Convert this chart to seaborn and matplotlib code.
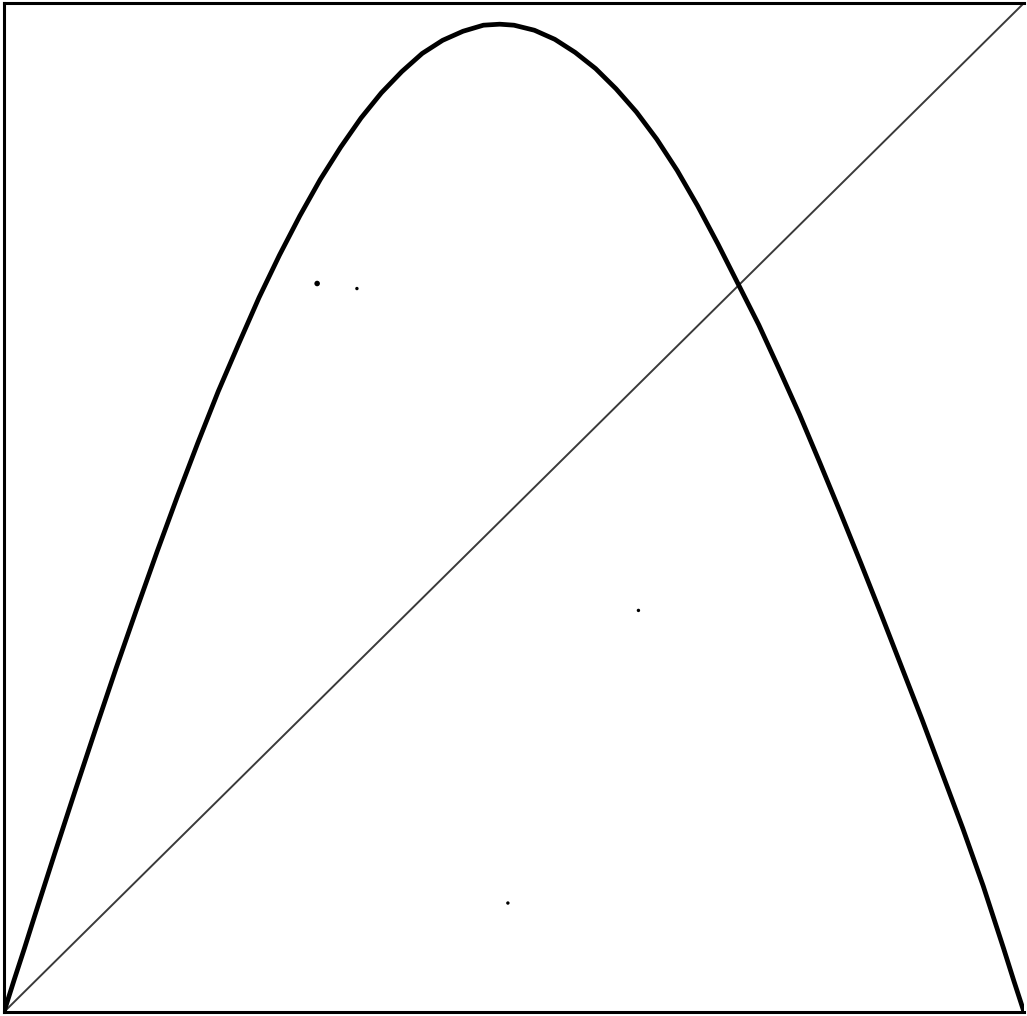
import matplotlib
matplotlib.use("Agg")
import matplotlib.pyplot as plt
import seaborn as sns
import pandas as pd

# curve (x, f(x)), peak a little left of 0.5
curve_x = [0.0, 0.01, 0.02, 0.03, 0.05, 0.07, 0.09, 0.11, 0.13, 0.15, 0.17,
           0.19, 0.21, 0.23, 0.25, 0.27, 0.29, 0.31, 0.33, 0.35, 0.37, 0.39,
           0.41, 0.43, 0.45, 0.47, 0.486,
           0.50, 0.52, 0.54, 0.56, 0.58, 0.60, 0.62, 0.64, 0.66, 0.68, 0.70,
           0.72, 0.74, 0.76, 0.78, 0.80, 0.82, 0.84, 0.86, 0.88, 0.90, 0.92,
           0.94, 0.96, 0.98, 0.99, 1.0]
curve_y = [0.0, 0.032, 0.063, 0.095, 0.158, 0.220, 0.281, 0.341, 0.399, 0.456,
           0.511, 0.564, 0.615, 0.662, 0.708, 0.750, 0.789, 0.825, 0.857,
           0.886, 0.911, 0.932, 0.950, 0.963, 0.972, 0.978, 0.979,
           0.978, 0.973, 0.964, 0.951, 0.935, 0.915, 0.892, 0.865, 0.834,
           0.799, 0.761, 0.721, 0.681, 0.637, 0.592, 0.544, 0.495, 0.445,
           0.394, 0.342, 0.290, 0.236, 0.182, 0.125, 0.063, 0.031, 0.0]

# identity line
diag_x = [0.0, 1.0]
diag_y = [0.0, 1.0]

# a few stray dots
dots_x = [0.307, 0.346, 0.622, 0.494]
dots_y = [0.722, 0.717, 0.398, 0.108]
dots_s = [16, 6, 6, 6]

sns.set_style("white")

fig = plt.figure(figsize=(10.27, 10.16), dpi=100)
ax = fig.add_axes([4 / 1027, 4 / 1016, 1020 / 1027, 1009 / 1016])

curve = pd.DataFrame({"x": curve_x, "y": curve_y})
diag = pd.DataFrame({"x": diag_x, "y": diag_y})
dots = pd.DataFrame({"x": dots_x, "y": dots_y, "s": dots_s})

sns.lineplot(data=diag, x="x", y="y", ax=ax, color="#3a3a3a", linewidth=1.4,
             sort=False, estimator=None)
sns.lineplot(data=curve, x="x", y="y", ax=ax, color="black", linewidth=3.4,
             sort=False, estimator=None, solid_joinstyle="round")
ax.scatter(dots["x"], dots["y"], s=dots["s"], color="black", linewidths=0)

ax.set_xlim(0, 1)
ax.set_ylim(0, 1)
ax.set_xticks([])
ax.set_yticks([])
ax.set_xlabel("")
ax.set_ylabel("")
for side in ["left", "top", "bottom"]:
    ax.spines[side].set_color("black")
    ax.spines[side].set_linewidth(2.2)
ax.spines["right"].set_visible(False)

fig.savefig("out.png", dpi=100, facecolor="white")
